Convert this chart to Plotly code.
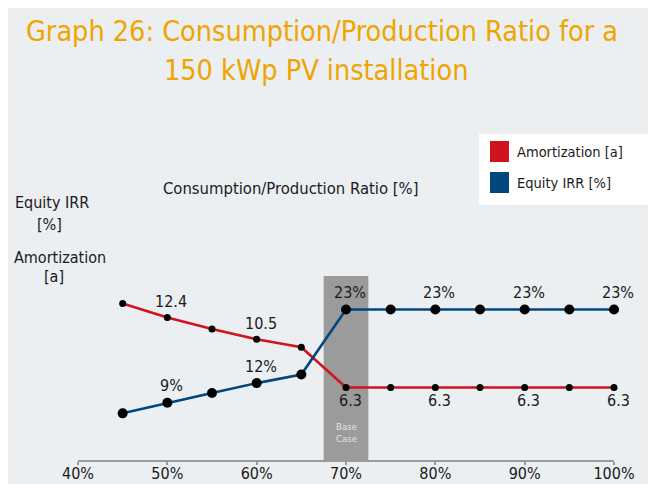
import plotly.graph_objects as go

# ---------------- data ----------------
ratio = [45, 50, 55, 60, 65, 70, 75, 80, 85, 90, 95, 100]
amortization = [13.6, 12.4, 11.4, 10.5, 9.8, 6.3, 6.3, 6.3, 6.3, 6.3, 6.3, 6.3]
equity_irr = [7.1, 8.7, 10.2, 11.7, 13.0, 22.9, 22.9, 22.9, 22.9, 22.9, 22.9, 22.9]

amort_label_x = [50, 60, 70, 80, 90, 100]
amort_label_val = [12.4, 10.5, 6.3, 6.3, 6.3, 6.3]
amort_label_text = ["12.4", "10.5", "6.3", "6.3", "6.3", "6.3"]
amort_label_pos = ["top", "top", "bottom", "bottom", "bottom", "bottom"]

irr_label_x = [50, 60, 70, 80, 90, 100]
irr_label_val = [8.7, 11.7, 22.9, 22.9, 22.9, 22.9]
irr_label_text = ["9%", "12%", "23%", "23%", "23%", "23%"]

x_tickvals = [40, 50, 60, 70, 80, 90, 100]
x_ticktext = ["40%", "50%", "60%", "70%", "80%", "90%", "100%"]

base_case_x = [67.5, 72.5]

# ---------------- style ----------------
FONT = "DejaVu Sans Condensed, Liberation Sans Narrow, DejaVu Sans, sans-serif"
RED = "#d0141e"
BLUE = "#00477e"
ORANGE = "#f0a400"
BG = "#ebeff2"
W, H = 656, 484
OFF = 8  # page body margin
# plot box in screen pixels
SX0, SX1, SY0, SY1 = 78, 614, 276, 460
ML, MT = SX0 - OFF, SY0 - OFF
MR, MB = W - (SX1 - OFF), H - (SY1 - OFF)
PW, PH = SX1 - SX0, SY1 - SY0


def pxx(X):
    return (X - SX0) / PW


def pxy(Y):
    return (SY1 - Y) / PH


fig = go.Figure()

fig.add_trace(go.Scatter(
    x=ratio, y=amortization, name="Amortization [a]", mode="lines+markers",
    line=dict(color=RED, width=2.6), marker=dict(color="black", size=7),
    yaxis="y", showlegend=False, cliponaxis=False))
fig.add_trace(go.Scatter(
    x=ratio, y=equity_irr, name="Equity IRR [%]", mode="lines+markers",
    line=dict(color=BLUE, width=2.6), marker=dict(color="black", size=10),
    yaxis="y2", showlegend=False, cliponaxis=False))

shapes = [
    # page background
    dict(type="rect", xref="paper", yref="paper", x0=pxx(3), x1=pxx(W + 20),
         y0=pxy(5), y1=pxy(H + 20), fillcolor=BG, line=dict(width=0), layer="below"),
    # base case band
    dict(type="rect", xref="x", yref="paper", x0=base_case_x[0], x1=base_case_x[1],
         y0=0, y1=1, fillcolor="#9b9b9b", line=dict(width=0), layer="below"),
    # legend box
    dict(type="rect", xref="paper", yref="paper", x0=pxx(479), x1=pxx(648),
         y0=pxy(205), y1=pxy(134), fillcolor="white", line=dict(width=0), layer="above"),
    dict(type="rect", xref="paper", yref="paper", x0=pxx(490), x1=pxx(509),
         y0=pxy(162), y1=pxy(141), fillcolor=RED, line=dict(width=0), layer="above"),
    dict(type="rect", xref="paper", yref="paper", x0=pxx(490), x1=pxx(509),
         y0=pxy(193), y1=pxy(172), fillcolor=BLUE, line=dict(width=0), layer="above"),
]

annotations = []


def ann(text, X, Y, size, color="#1a1a1a", xanchor="center", **kw):
    annotations.append(dict(
        text=text, xref="paper", yref="paper", x=pxx(X), y=pxy(Y),
        xanchor=xanchor, yanchor="middle", showarrow=False,
        font=dict(family=FONT, size=size, color=color), **kw))


# title
ann("Graph 26: Consumption/Production Ratio for a", 322, 32, 28.5, ORANGE)
ann("150 kWp PV installation", 316, 70, 28.5, ORANGE)
# axis titles
ann("Consumption/Production Ratio [%]", 290, 188, 16.5)
ann("Equity IRR", 52, 202, 16)
ann("[%]", 49, 224, 16)
ann("Amortization", 60, 257, 16)
ann("[a]", 54, 276, 16)
# legend texts
ann("Amortization [a]", 515, 152, 14.5, xanchor="left")
ann("Equity IRR [%]", 515, 183, 14.5, xanchor="left")
# base case
ann("Base<br>Case", 346, 432, 9.5, color="#e4e4e4")

# data labels
for xv, yv, t, pos in zip(amort_label_x, amort_label_val, amort_label_text, amort_label_pos):
    annotations.append(dict(
        text=t, x=xv, y=yv, xref="x", yref="y", showarrow=False,
        xshift=4, yshift=16 if pos == "top" else -13,
        font=dict(family=FONT, size=16, color="#1a1a1a")))
for xv, yv, t in zip(irr_label_x, irr_label_val, irr_label_text):
    annotations.append(dict(
        text=t, x=xv, y=yv, xref="x", yref="y2", showarrow=False,
        xshift=4, yshift=17,
        font=dict(family=FONT, size=16, color="#1a1a1a")))

fig.update_layout(
    width=W, height=H,
    margin=dict(l=ML, r=MR, t=MT, b=MB, pad=0, autoexpand=False),
    paper_bgcolor="white", plot_bgcolor="rgba(0,0,0,0)",
    showlegend=False,
    shapes=shapes, annotations=annotations,
    xaxis=dict(range=[40, 100], tickvals=x_tickvals, ticktext=x_ticktext,
               automargin=False, ticklabelstandoff=-5,
               showgrid=False, zeroline=False, showline=True,
               linecolor="#9a9a9a", linewidth=1.5,
               ticks="outside", ticklen=3, tickcolor="#9a9a9a", tickwidth=1.5,
               tickfont=dict(family=FONT, size=16, color="#1a1a1a")),
    yaxis=dict(range=[0, 16], automargin=False, showgrid=False, zeroline=False,
               showline=False, showticklabels=False, ticks=""),
    yaxis2=dict(range=[0, 28], automargin=False, overlaying="y", showgrid=False,
                zeroline=False, showline=False, showticklabels=False, ticks=""),
)

fig.write_html("out.html")
